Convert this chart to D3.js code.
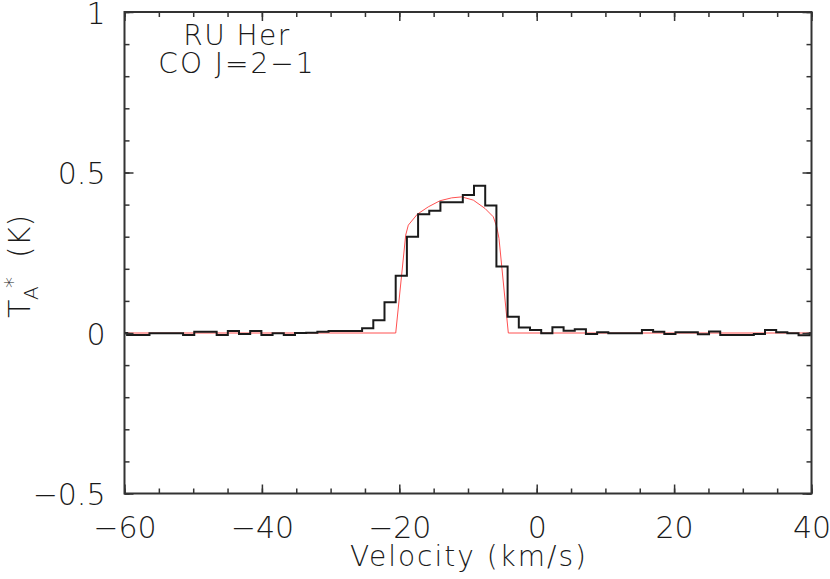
<!DOCTYPE html>
<meta charset="utf-8">

<style>

body {
  margin: 0;
  background: #fff;
}

text {
  font-family: "DejaVu Sans", sans-serif;
  font-weight: 200;
  fill: #1a1a1a;
}

.spectrum {
  fill: none;
  stroke: #1a1a1a;
  stroke-width: 2;
}

.fit {
  fill: none;
  stroke: #ff5050;
  stroke-width: 1;
}

.frame {
  fill: none;
  stroke: #333;
  stroke-width: 2;
}

</style>

<svg id="chart" width="830" height="579"></svg>

<script src="https://cdn.jsdelivr.net/npm/d3@7"></script>

<script type="text/javascript">

// channel centres (km/s) and antenna temperature T_A* (K)
const velocity = [
  -60.43, -58.81, -57.18, -55.55, -53.92, -52.29, -50.66, -49.03, -47.40, -45.77,
  -44.15, -42.52, -40.89, -39.26, -37.63, -36.00, -34.37, -32.74, -31.11, -29.49,
  -27.86, -26.23, -24.60, -22.97, -21.34, -19.71, -18.08, -16.45, -14.83, -13.20,
  -11.57, -9.94, -8.31, -6.68, -5.05, -3.42, -1.79, -0.16, 1.47, 3.10,
  4.73, 6.35, 7.98, 9.61, 11.24, 12.87, 14.50, 16.13, 17.76, 19.39,
  21.01, 22.64, 24.27, 25.90, 27.53, 29.16, 30.79, 32.42, 34.05, 35.67,
  37.30, 38.93, 40.56
]
const tempA = [
  0.000, -0.006, -0.006, -0.001, -0.001, -0.001, -0.006, 0.004, 0.004, -0.006,
  0.006, -0.003, 0.006, -0.006, -0.001, -0.006, 0.000, 0.001, 0.004, 0.006,
  0.006, 0.006, 0.015, 0.040, 0.096, 0.178, 0.300, 0.370, 0.381, 0.407,
  0.407, 0.430, 0.459, 0.397, 0.207, 0.051, 0.017, 0.009, -0.001, 0.018,
  0.007, 0.012, -0.003, 0.002, -0.001, -0.001, -0.001, 0.009, 0.004, -0.003,
  0.002, 0.002, -0.004, 0.005, -0.006, -0.006, -0.006, -0.003, 0.009, 0.002,
  -0.001, -0.007, -0.001
]

// shell fit (red)
const fitVelocity = [-60, -20.52, -19.07, -18.69, -17.38, -15.78, -14.08, -12.37, -10.92,
  -9.23, -7.53, -6.32, -5.82, -5.49, -4.13, 40]
const fitTemp = [0, 0, 0.305, 0.336, 0.370, 0.393, 0.412, 0.421, 0.424,
  0.414, 0.388, 0.362, 0.331, 0.295, 0, 0]

const xTicks = [-60, -40, -20, 0, 20, 40]
const xMinorTicks = d3.range(-60, 41, 5)
const yTicks = [-0.5, 0, 0.5, 1]
const yMinorTicks = d3.range(-5, 11).map(d => d / 10)

const sourceName = "RU Her"
const lineName = "CO J=2\u22121"
const xTitle = "Velocity (km/s)"

const margin = {top: 12, left: 124.5},
    width = 687,
    height = 481.5

const svg = d3.select("#chart")

const x = d3.scaleLinear()
  .domain([-60, 40])
  .range([margin.left, margin.left + width])

const y = d3.scaleLinear()
  .domain([-0.5, 1])
  .range([margin.top + height, margin.top])

svg.append("clipPath")
    .attr("id", "plotClip")
  .append("rect")
    .attr("x", margin.left)
    .attr("y", margin.top)
    .attr("width", width)
    .attr("height", height)

const plot = svg.append("g")
    .attr("clip-path", "url(#plotClip)")

//fit first so the histogram sits on top
plot.append("path")
    .attr("class", "fit")
    .attr("d", d3.line()
      .x((d, i) => x(fitVelocity[i]))
      .y(d => y(d))(fitTemp))

plot.append("path")
    .attr("class", "spectrum")
    .attr("d", d3.line()
      .curve(d3.curveStep)
      .x((d, i) => x(velocity[i]))
      .y(d => y(d))(tempA))

//ticks on all four sides, pointing inwards
const fmt = d3.format("")

function ticks(axis, values, size, labels) {
  return axis
    .tickValues(values)
    .tickSizeInner(-size)
    .tickSizeOuter(0)
    .tickFormat(labels ? fmt : "")
}

const bottom = margin.top + height,
    right = margin.left + width

const axes = [
  [d3.axisBottom, x, `translate(0, ${bottom})`, xMinorTicks, xTicks, true],
  [d3.axisTop, x, `translate(0, ${margin.top})`, xMinorTicks, xTicks, false],
  [d3.axisLeft, y, `translate(${margin.left}, 0)`, yMinorTicks, yTicks, true],
  [d3.axisRight, y, `translate(${right}, 0)`, yMinorTicks, yTicks, false]
]

axes.forEach(([makeAxis, scale, transform, minor, major, labels], i) => {
  const g = svg.append("g")
      .attr("transform", transform)
      .attr("color", "#333")
  g.append("g").call(ticks(makeAxis(scale), minor, 5, false))
  const gMajor = g.append("g").call(ticks(makeAxis(scale), major, 9, labels))
  g.selectAll(".domain").remove()
  g.selectAll("line").attr("stroke-width", 1.5)
  g.selectAll("text")
      .attr("font-size", 30)
      .attr("font-family", null)
      .attr("fill", null)
  if (labels && i === 0) {
    gMajor.selectAll("text").attr("y", 44.5).attr("dy", null)
  }
  if (labels && i === 2) {
    gMajor.selectAll("text").attr("x", -19).attr("dy", "0.37em")
  }
})

svg.append("rect")
    .attr("class", "frame")
    .attr("x", margin.left)
    .attr("y", margin.top)
    .attr("width", width)
    .attr("height", height)

//labels
svg.append("text")
    .attr("x", (margin.left + right) / 2 + 1)
    .attr("y", 566)
    .attr("text-anchor", "middle")
    .attr("font-size", 28)
    .attr("letter-spacing", 2)
    .text(xTitle)

const yLabel = svg.append("g")
    .attr("transform", "translate(30, 318) rotate(-90)")
yLabel.append("text").attr("font-size", 30).text("T")
yLabel.append("text").attr("x", 18).attr("y", 8).attr("font-size", 20).text("A")
yLabel.append("text").attr("x", 30).attr("y", -10).attr("font-size", 22).text("*")
yLabel.append("text").attr("x", 60).attr("font-size", 30).text("(K)")

svg.append("text")
    .attr("x", 237)
    .attr("y", 45)
    .attr("text-anchor", "middle")
    .attr("font-size", 28)
    .attr("letter-spacing", 1.5)
    .text(sourceName)

svg.append("text")
    .attr("x", 237)
    .attr("y", 73)
    .attr("text-anchor", "middle")
    .attr("font-size", 28)
    .attr("letter-spacing", 2)
    .text(lineName)

</script>
